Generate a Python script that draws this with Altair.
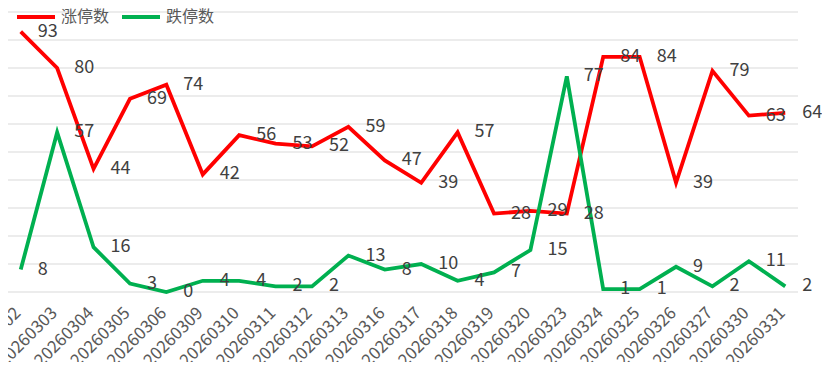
import altair as alt
import pandas as pd

dates = ["20260302", "20260303", "20260304", "20260305", "20260306", "20260309",
         "20260310", "20260311", "20260312", "20260313", "20260316", "20260317",
         "20260318", "20260319", "20260320", "20260323", "20260324", "20260325",
         "20260326", "20260327", "20260330", "20260331"]
limit_up = [93, 80, 44, 69, 74, 42, 56, 53, 52, 59, 47, 39, 57, 28, 29, 28, 84, 84, 39, 79, 63, 64]
limit_down = [8, 57, 16, 3, 0, 4, 4, 2, 2, 13, 8, 10, 4, 7, 15, 77, 1, 1, 9, 2, 11, 2]
series_names = ["涨停数", "跌停数"]
series_colors = ["#FF0000", "#00B050"]
grid_values = [0, 10, 20, 30, 40, 50, 60, 70, 80, 90, 100]

rows = []
for d, v in zip(dates, limit_up):
    rows.append({"date": d, "series": series_names[0], "value": v, "order": 0})
for d, v in zip(dates, limit_down):
    rows.append({"date": d, "series": series_names[1], "value": v, "order": 1})
df = pd.DataFrame(rows)
grid_df = pd.DataFrame({"value": grid_values})

x_enc = alt.X(
    "date:O",
    sort=dates,
    scale=alt.Scale(type="point", padding=0.35),
    axis=alt.Axis(
        title=None, labelAngle=-45, labelAlign="right", labelBaseline="middle",
        labelFontSize=17, labelColor="#595959", labelPadding=18, labelOffset=-3,
        ticks=False, domain=False, grid=False, labelOverlap=False,
    ),
)
y_enc = alt.Y(
    "value:Q",
    scale=alt.Scale(domain=[0, 100], nice=False),
    axis=None,
)

grid = alt.Chart(grid_df).mark_rule(color="#D9D9D9", strokeWidth=1).encode(
    y=alt.Y("value:Q", scale=alt.Scale(domain=[0, 100], nice=False), axis=None),
)

base = alt.Chart(df)

lines = base.mark_line(strokeWidth=3.8).encode(
    x=x_enc,
    y=y_enc,
    color=alt.Color(
        "series:N",
        sort=series_names,
        scale=alt.Scale(domain=series_names, range=series_colors),
        legend=alt.Legend(
            title=None, orient="none", legendX=6, legendY=-17,
            direction="horizontal", symbolType="stroke", symbolSize=1444,
            symbolStrokeWidth=4, labelFontSize=16, labelColor="#595959",
            padding=1, columnPadding=4, labelOffset=4,
        ),
    ),
    order=alt.Order("order:Q"),
)

labels = base.mark_text(
    align="left", baseline="middle", dx=17, fontSize=18, color="#404040"
).encode(
    x=x_enc,
    y=y_enc,
    text=alt.Text("value:Q"),
    detail="series:N",
)

chart = alt.layer(grid, lines, labels).properties(
    width=790,
    height=280,
    autosize=alt.AutoSizeParams(type="none"),
    padding={"left": 0, "top": 4, "right": 24, "bottom": 70},
).configure(
    font="Noto Sans CJK SC"
).configure_view(
    stroke=None
)

chart.save("out.html", embed_options={"renderer": "svg", "actions": False})
